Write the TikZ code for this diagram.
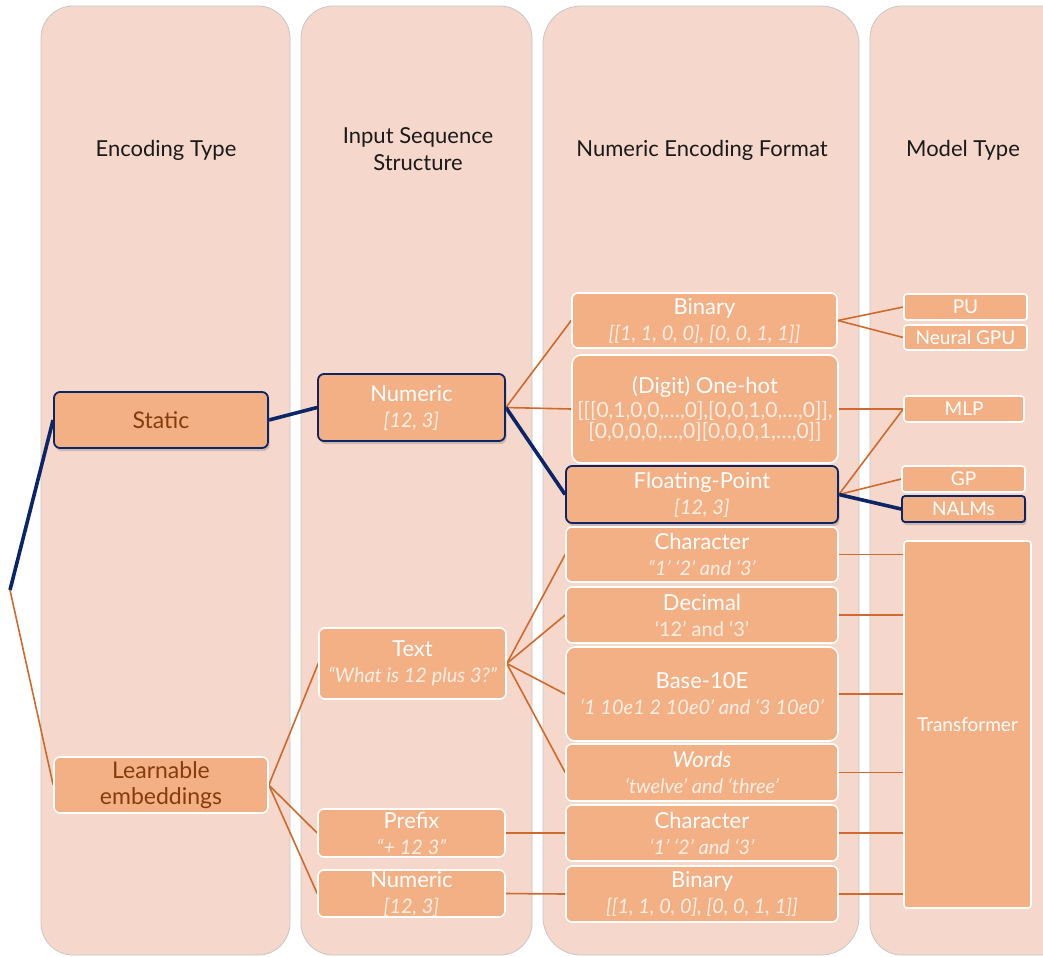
\documentclass[tikz,border=0pt]{standalone}
\usepackage{fontspec}
\setmainfont{Lato}
\usetikzlibrary{shadows}

\definecolor{colbg}{HTML}{F6D7CB}
\definecolor{boxfill}{HTML}{F3B084}
\definecolor{navy}{HTML}{0B2566}
\definecolor{linkorange}{HTML}{CD6A2D}
\definecolor{brownish}{HTML}{843C0C}
\definecolor{headtext}{HTML}{1A1A1A}
\definecolor{paletext}{HTML}{FDEFE6}

\pgfdeclarelayer{bg}
\pgfdeclarelayer{links}
\pgfsetlayers{bg,links,main}

% larger first line inside a two-line box
\newcommand{\boxtitle}[1]{{\fontsize{22}{26}\selectfont #1}}

\tikzset{
  column/.style={fill=colbg, draw=black!22, line width=0.8pt, rounded corners=32pt},
  header/.style={font=\fontsize{22}{27}\selectfont, text=headtext, align=center},
  box/.style={rectangle, rounded corners=6pt, fill=boxfill, draw=white,
    line width=1.6pt, text=white, align=center, inner sep=0pt,
    font=\fontsize{20}{26}\selectfont},
  keybox/.style={box, draw=navy, line width=1.8pt,
    drop shadow={opacity=0.35, shadow xshift=1.5pt, shadow yshift=-3pt}},
  modelbox/.style={box, rounded corners=3pt, font=\fontsize{19}{22}\selectfont},
  typebox/.style={box, text=brownish, font=\fontsize{23}{26}\selectfont},
  boxsize/.style 2 args={minimum width=#1pt, minimum height=#2pt},
  keylink/.style={draw=navy, line width=3.6pt},
  link/.style={draw=linkorange, line width=1.6pt},
}

\begin{document}
\begin{tikzpicture}[x=1pt, y=-1pt]
\clip (0,0) rectangle (1043,956);
\useasboundingbox (0,0) rectangle (1043,956);

% column panels
\begin{pgfonlayer}{bg}
  \fill[white] (0,0) rectangle (1043,956);
  \path[column] (41,6) rectangle (290,955);
  \path[column] (301,6) rectangle (532,955);
  \path[column, rounded corners=38pt] (543,6) rectangle (859,955);
  \path[column] (870,6) rectangle (1080,955);
\end{pgfonlayer}

% column headers
\node[header] (h1) at (166,150) {Encoding Type};
\node[header] (h2) at (418,149) {Input Sequence\\Structure};
\node[header] (h3) at (702,150) {Numeric Encoding Format};
\node[header] (h4) at (963,150) {Model Type};

% encoding type
\coordinate (root) at (10,590);
\node[typebox, draw=navy, line width=1.8pt,
  drop shadow={opacity=0.35, shadow xshift=1.5pt, shadow yshift=-3pt},
  boxsize={214}{56}] (static) at (161,420) {Static};
\node[typebox, boxsize={214}{56}] (learn) at (161,785) {Learnable\\embeddings};

% input sequence structure
\node[keybox, boxsize={187}{67}] (numS) at (411.5,407.5)
  {\boxtitle{Numeric}\\{\itshape\color{paletext}[12, 3]}};
\node[box, boxsize={187}{71}] (text) at (412.5,663.5)
  {\boxtitle{Text}\\{\itshape\color{paletext}“What is 12 plus 3?”}};
\node[box, boxsize={187}{48}] (prefix) at (411.5,833)
  {\boxtitle{Prefix}\\{\itshape\color{paletext}“+ 12 3”}};
\node[box, boxsize={187}{47}] (numL) at (411.5,893.5)
  {\boxtitle{Numeric}\\{\itshape\color{paletext}[12, 3]}};

% numeric encoding format
\node[box, boxsize={265}{55}] (bin1) at (704.5,320.5)
  {\boxtitle{Binary}\\{\itshape\color{paletext}[[1, 1, 0, 0], [0, 0, 1, 1]]}};
\node[box, boxsize={266}{108}, rounded corners=9pt, font=\fontsize{21}{21}\selectfont] (onehot) at (705,409)
  {\boxtitle{(Digit) One-hot}\\[3pt]{\color{paletext}[[[0,1,0,0,…,0],[0,0,1,0,…,0]],}\\{\color{paletext}[0,0,0,0,…,0][0,0,0,1,…,0]]}};
\node[keybox, boxsize={272}{57}] (float) at (702,494.5)
  {\boxtitle{Floating-Point}\\{\itshape\color{paletext}[12, 3]}};
\node[box, boxsize={272}{55}] (char1) at (702,554.5)
  {\boxtitle{Character}\\{\itshape\color{paletext}“1’ ‘2’ and ‘3’}};
\node[box, boxsize={272}{56}] (dec) at (702,615)
  {\boxtitle{Decimal}\\{\color{paletext}‘12’ and ‘3’}};
\node[box, boxsize={272}{94}, rounded corners=9pt] (base) at (702,694)
  {\boxtitle{Base-10E}\\{\itshape\color{paletext}‘1 10e1 2 10e0’ and ‘3 10e0’}};
\node[box, boxsize={272}{57}] (words) at (702,772.5)
  {\boxtitle{\itshape Words}\\{\itshape\color{paletext}‘twelve’ and ‘three’}};
\node[box, boxsize={272}{56}] (char2) at (702,833)
  {\boxtitle{Character}\\{\itshape\color{paletext}‘1’ ‘2’ and ‘3’}};
\node[box, boxsize={272}{56}] (bin2) at (702,894)
  {\boxtitle{Binary}\\{\itshape\color{paletext}[[1, 1, 0, 0], [0, 0, 1, 1]]}};

% model type
\node[modelbox, boxsize={123}{26}] (pu) at (965.5,307) {PU};
\node[modelbox, boxsize={123}{25}] (ngpu) at (965.5,337.5) {Neural GPU};
\node[modelbox, boxsize={120}{26}] (mlp) at (964,409) {MLP};
\node[modelbox, boxsize={123}{26}] (gp) at (963.5,479) {GP};
\node[modelbox, draw=navy, line width=1.8pt,
  drop shadow={opacity=0.35, shadow xshift=1.5pt, shadow yshift=-3pt},
  boxsize={123}{26}] (nalms) at (963.5,509) {NALMs};
\node[modelbox, boxsize={127}{367}] (trans) at (967.5,724.5) {Transformer};

% connectors
\begin{pgfonlayer}{links}
  \draw[keylink] (root) -- (static.west);
  \draw[link] (root) -- (learn.west);
  \draw[keylink] (static.east) -- (numS.west);
  \draw[link] (numS.east) -- (bin1.west);
  \draw[link] (numS.east) -- (onehot.west);
  \draw[keylink] (numS.east) -- (float.west);
  \draw[link] (bin1.east) -- (pu.west);
  \draw[link] (bin1.east) -- (ngpu.west);
  \draw[link] (onehot.east) -- (mlp.west);
  \draw[link] (float.east) -- (mlp.west);
  \draw[link] (float.east) -- (gp.west);
  \draw[keylink] (float.east) -- (nalms.west);
  \draw[link] (learn.east) -- (text.west);
  \draw[link] (learn.east) -- (prefix.west);
  \draw[link] (learn.east) -- (numL.west);
  \draw[link] (text.east) -- (char1.west);
  \draw[link] (text.east) -- (dec.west);
  \draw[link] (text.east) -- (base.west);
  \draw[link] (text.east) -- (words.west);
  \draw[link] (prefix.east) -- (char2.west);
  \draw[link] (numL.east) -- (bin2.west);
  \foreach \n in {char1,dec,base,words,char2,bin2}
    \draw[link] (\n.east) -- (\n.east -| trans.west);
\end{pgfonlayer}
\end{tikzpicture}
\end{document}
